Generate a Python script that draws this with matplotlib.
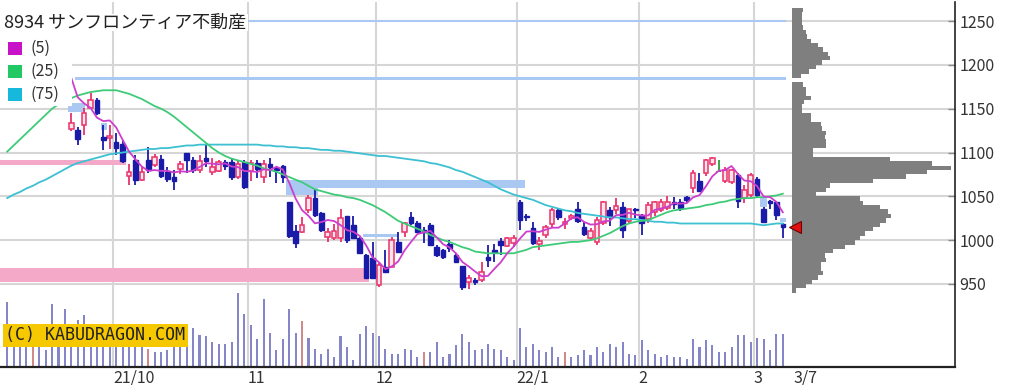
import matplotlib
matplotlib.use("Agg")
import matplotlib.pyplot as plt
from matplotlib.patches import Rectangle
import numpy as np
import pandas as pd

plt.rcParams['font.family'] = ['Noto Sans CJK JP', 'DejaVu Sans']

# ---------------- data ----------------
title = "8934 サンフロンティア不動産"

opens = [1190, 1245, 1236, 1252, 1238, 1220, 1232, 1225, 1180, 1185,
         1127, 1126, 1131, 1151, 1160, 1118, 1117, 1112, 1110, 1073,
         1092, 1069, 1092, 1086, 1093, 1078, 1072, 1081, 1099, 1092,
         1080, 1094, 1078, 1079, 1089, 1089, 1072, 1089, 1079, 1088,
         1072, 1087, 1082, 1085, 1044, 1011, 1009, 1034, 1048, 1031,
         1004, 1002, 1002, 1027, 1017, 1002, 983, 980, 949, 969,
         969, 998, 1009, 1026, 1020, 1012, 1017, 992, 989, 996,
         983, 971, 952, 955, 955, 981, 989, 999, 993, 997,
         1043, 1028, 1014, 996, 1006, 1019, 1034, 1018, 1025, 1036,
         1015, 1002, 998, 1020, 1034, 1034, 1038, 1022, 1036, 1029,
         1024, 1032, 1034, 1037, 1043, 1044, 1049, 1060, 1068, 1077,
         1087, 1078, 1067, 1066, 1074, 1048, 1052, 1070, 1036, 1045,
         1043, 1018]
highs = [1256, 1258, 1255, 1258, 1245, 1240, 1248, 1228, 1195, 1210,
         1145, 1129, 1151, 1168, 1162, 1131, 1131, 1122, 1114, 1087,
         1097, 1085, 1106, 1098, 1097, 1083, 1080, 1090, 1100, 1095,
         1097, 1108, 1094, 1092, 1092, 1094, 1090, 1092, 1091, 1092,
         1092, 1094, 1083, 1086, 1044, 1017, 1026, 1052, 1057, 1032,
         1014, 1018, 1035, 1028, 1027, 1004, 984, 998, 974, 989,
         1004, 1009, 1021, 1032, 1022, 1015, 1020, 994, 990, 1000,
         985, 971, 960, 957, 975, 994, 996, 1003, 1004, 1006,
         1046, 1030, 1021, 1004, 1017, 1037, 1037, 1025, 1030, 1043,
         1021, 1014, 1026, 1045, 1038, 1048, 1044, 1036, 1037, 1030,
         1043, 1045, 1047, 1050, 1049, 1047, 1050, 1080, 1077, 1093,
         1095, 1091, 1083, 1081, 1077, 1063, 1077, 1072, 1038, 1046,
         1044, 1020]
lows = [1180, 1228, 1220, 1230, 1212, 1205, 1218, 1175, 1170, 1178,
        1124, 1109, 1120, 1151, 1143, 1103, 1104, 1097, 1088, 1063,
        1063, 1068, 1077, 1084, 1071, 1066, 1057, 1076, 1077, 1077,
        1077, 1084, 1074, 1078, 1080, 1069, 1070, 1058, 1067, 1071,
        1065, 1072, 1065, 1065, 1003, 991, 1008, 1031, 1026, 1009,
        998, 1000, 998, 997, 1003, 985, 956, 957, 946, 963,
        969, 985, 1004, 1017, 1009, 997, 993, 981, 979, 986,
        974, 943, 944, 949, 952, 969, 975, 983, 992, 992,
        1012, 1022, 995, 989, 1003, 1015, 1023, 1013, 1023, 1020,
        1005, 1000, 994, 1017, 1016, 1030, 1003, 1020, 1025, 1006,
        1020, 1028, 1032, 1034, 1035, 1033, 1042, 1054, 1055, 1073,
        1085, 1078, 1065, 1064, 1037, 1042, 1049, 1048, 1020, 1035,
        1023, 1002]
closes = [1245, 1236, 1252, 1238, 1220, 1232, 1225, 1180, 1185, 1201,
          1134, 1115, 1145, 1160, 1145, 1114, 1119, 1105, 1090, 1078,
          1069, 1078, 1080, 1095, 1073, 1070, 1068, 1087, 1092, 1080,
          1090, 1090, 1084, 1089, 1085, 1072, 1087, 1061, 1088, 1081,
          1087, 1083, 1080, 1072, 1005, 997, 1017, 1048, 1029, 1012,
          1009, 1011, 1025, 1000, 1003, 985, 957, 957, 972, 964,
          1000, 986, 1020, 1020, 1009, 1009, 995, 983, 981, 991,
          975, 946, 957, 952, 964, 977, 986, 995, 1003, 1002,
          1023, 1026, 997, 999, 1015, 1034, 1026, 1021, 1028, 1022,
          1007, 1011, 1023, 1044, 1026, 1039, 1012, 1035, 1034, 1020,
          1040, 1043, 1044, 1043, 1041, 1037, 1046, 1077, 1056, 1091,
          1094, 1078, 1080, 1080, 1045, 1057, 1074, 1052, 1021, 1042,
          1029, 1015]

ma25 = [1101, 1108, 1115, 1122, 1129, 1136, 1143, 1150, 1155, 1159,
        1162, 1165, 1167, 1169, 1170, 1171, 1171, 1171, 1169, 1167,
        1164, 1161, 1157, 1153, 1150, 1146, 1141, 1135, 1129, 1123,
        1117, 1111, 1105, 1100, 1096, 1093, 1091, 1089, 1087, 1085,
        1082, 1080, 1078, 1075, 1072, 1069, 1066, 1062, 1058, 1056,
        1054, 1052, 1051, 1049, 1048, 1046, 1043, 1040, 1036, 1032,
        1027, 1022, 1019, 1016, 1013, 1010, 1006, 1003, 1000, 998,
        995, 992, 990, 987, 986, 985, 985, 985, 985, 985,
        987, 989, 992, 993, 994, 995, 996, 997, 998, 998,
        999, 1000, 1002, 1005, 1008, 1012, 1016, 1019, 1021, 1022,
        1023, 1026, 1029, 1032, 1034, 1035, 1036, 1037, 1038, 1040,
        1041, 1043, 1044, 1046, 1047, 1048, 1048, 1049, 1049, 1050,
        1051, 1053]
ma75 = [1048, 1052, 1055, 1059, 1062, 1066, 1069, 1073, 1077, 1081,
        1085, 1088, 1090, 1092, 1094, 1096, 1098, 1099, 1100, 1101,
        1102, 1103, 1104, 1104, 1105, 1105, 1106, 1107, 1108, 1108,
        1109, 1109, 1109, 1109, 1109, 1109, 1109, 1109, 1109, 1109,
        1108, 1108, 1107, 1107, 1106, 1106, 1105, 1105, 1104, 1103,
        1103, 1102, 1102, 1101, 1100, 1099, 1098, 1097, 1096, 1096,
        1095, 1094, 1093, 1092, 1091, 1090, 1088, 1087, 1085, 1083,
        1080, 1078, 1075, 1072, 1069, 1066, 1062, 1058, 1055, 1052,
        1050, 1048, 1046, 1043, 1040, 1038, 1036, 1034, 1033, 1031,
        1030, 1029, 1028, 1027, 1026, 1026, 1025, 1024, 1024, 1023,
        1022, 1021, 1021, 1020, 1020, 1019, 1019, 1019, 1019, 1019,
        1019, 1019, 1019, 1019, 1019, 1019, 1019, 1018, 1017, 1018,
        1019, 1019]

volumes = [65, 30, 30, 28, 28, 30, 17, 63, 30, 58,
           30, 47, 52, 21, 20, 42, 32, 30, 30, 30,
           30, 30, 18, 15, 15, 17, 23, 25, 30, 39,
           32, 31, 25, 23, 23, 25, 74, 53, 42, 28,
           68, 34, 17, 28, 58, 34, 46, 29, 18, 13,
           18, 10, 31, 20, 7, 33, 41, 34, 31, 18,
           13, 13, 18, 17, 10, 15, 15, 25, 10, 13,
           22, 33, 25, 17, 18, 23, 18, 17, 10, 7,
           39, 20, 23, 17, 15, 20, 10, 15, 10, 12,
           17, 12, 20, 15, 23, 20, 25, 13, 12, 27,
           17, 13, 10, 12, 10, 10, 8, 28, 20, 27,
           22, 15, 15, 20, 32, 32, 25, 29, 28, 17,
           33, 33]
red_volume_days = [4, 22, 46, 65, 87]

# price-volume profile (5-yen bins)
profile_prices = [p + 0.5 for p in range(1262, 940, -5)]
profile_volume = [11, 10, 10, 10, 11, 14, 15, 19, 26, 31,
                  36, 38, 30, 24, 17, 9, 0, 11, 14, 14,
                  19, 12, 10, 10, 19, 19, 29, 30, 34, 33,
                  34, 34, 21, 21, 98, 140, 159, 135, 114, 81,
                  38, 34, 24, 68, 71, 88, 96, 99, 94, 88,
                  81, 73, 68, 63, 53, 41, 33, 34, 29, 29,
                  31, 26, 20, 14, 4]

month_bounds = [16.5, 37.5, 57.5, 79.5, 98.5, 116.5]
month_labels = ["21/10", "11", "12", "22/1", "2", "3"]
last_label = "3/7"

# gap ("window") zones: (start idx, end idx, low price, high price)
up_gaps = [(-1.2, 18.5, 1085.5, 1091.5), (-1.2, 56.5, 952.5, 968.0)]
down_gaps = [(9.5, 12.2, 1146, 1157), (14.6, 15.6, 1126, 1134),
             (43.5, 48.5, 1052, 1069), (48.5, 80.8, 1060, 1069),
             (55.5, 61.0, 1004, 1006.5), (117.5, 118.5, 1038, 1048),
             (120.6, 121.5, 1021, 1025),
             (10.5, 121.5, 1248.5, 1251), (10.5, 121.5, 1182.5, 1186.5)]

# ---------------- figure ----------------
W, H = 1028, 385
fig = plt.figure(figsize=(W / 100, H / 100), dpi=100)
AX_L, AX_R, AX_T, AX_B = 0, 955, 2, 367
pos = [AX_L / W, (H - AX_B) / H, (AX_R - AX_L) / W, (AX_B - AX_T) / H]

vax = fig.add_axes(pos, zorder=0)
ax = fig.add_axes(pos, zorder=1, sharex=vax)
ax.patch.set_alpha(0)
ax.set_axisbelow(True)

n = len(closes)
x = np.arange(n)
ax.set_xlim(-1.123, 147.86)
ax.set_ylim(855.3, 1271.7)

# volume
vcolors = ['#d08a8a' if i in red_volume_days else '#8486c8' for i in range(n)]
vax.bar(x, volumes, width=0.32, color=vcolors, zorder=2)
vax.set_ylim(0, AX_B - AX_T)
vax.axis('off')

# grids
ax.set_yticks(range(950, 1251, 50))
ax.yaxis.grid(True, color='#d6d6d6', lw=1.5)
for mb in month_bounds:
    vax.axvline(mb, color='#d6d6d6', lw=1.5, zorder=1)

# gap zones
for s, e, lo, hi in up_gaps:
    ax.add_patch(Rectangle((s, lo), e - s, hi - lo, color='#f4a9c8', lw=0, zorder=1))
for s, e, lo, hi in down_gaps:
    ax.add_patch(Rectangle((s, lo), e - s, hi - lo, color='#a9c9f2', lw=0, zorder=1))

# candles
o = np.array(opens); c = np.array(closes); h = np.array(highs); l = np.array(lows)
up = c > o
dn = c < o
eq = c == o
ax.vlines(x[up], l[up], h[up], color='#e8336b', lw=1.3, zorder=3)
ax.vlines(x[dn], l[dn], h[dn], color='#1a1aa8', lw=1.3, zorder=3)
ax.vlines(x[eq], l[eq], h[eq], color='#2f9a3a', lw=1.3, zorder=3)
bw = 0.72
ax.bar(x[up], np.maximum(c[up] - o[up], 1), bottom=o[up], width=bw,
       facecolor='#ffe4ec', edgecolor='#e8336b', lw=1.1, zorder=3.2)
ax.bar(x[dn], np.maximum(o[dn] - c[dn], 1), bottom=c[dn], width=bw,
       facecolor='#1a1aa8', edgecolor='#1a1aa8', lw=1.0, zorder=3.2)
ax.bar(x[eq], 0.8, bottom=o[eq], width=bw, color='#2f9a3a', zorder=3.2)

# moving averages
ma5 = pd.Series(closes).rolling(5).mean()
ax.plot(x, ma75, color='#3cc0d2', lw=1.3, zorder=4)
ax.plot(x, ma25, color='#3ecb78', lw=1.3, zorder=4)
ax.plot(x, ma5, color='#cc3fcc', lw=1.3, zorder=4)

# price-volume profile
PX0 = 792
pax = fig.add_axes([PX0 / W, pos[1], (AX_R - PX0) / W, pos[3]], zorder=2, sharey=ax)
pax.patch.set_alpha(0)
pax.barh(profile_prices, profile_volume, height=5, color='#7f7f7f', lw=0)
pax.set_xlim(0, AX_R - PX0)
pax.axis('off')
# current price marker
pax.plot([2.5], [closes[-1]], marker='<', ms=8, color='#e01010',
         mec='#700000', mew=0.8, zorder=6, clip_on=False)

# axes styling
for sp in ['top', 'left']:
    ax.spines[sp].set_visible(False)
ax.spines['right'].set_color('#222')
ax.spines['right'].set_linewidth(1.2)
ax.spines['bottom'].set_color('#222')
ax.spines['bottom'].set_linewidth(1.6)
ax.yaxis.tick_right()
ax.tick_params(axis='y', direction='in', length=5, width=1, color='#888',
               labelsize=11.5, labelcolor='#333', pad=3)
ax.set_xticks(month_bounds + [n + 0.6])
ax.set_xticklabels(month_labels + [last_label])
ax.tick_params(axis='x', length=0, labelsize=11.5, labelcolor='#333', pad=2)
for lab in ax.get_xticklabels():
    lab.set_horizontalalignment('left')

# title / legend boxes (pixel helpers in axes fraction)
def fx(px):
    return (px - AX_L) / (AX_R - AX_L)
def fy(py):
    return (AX_B - py) / (AX_B - AX_T)

ax.add_patch(Rectangle((fx(0), fy(31)), fx(248), fy(14) - fy(31),
                       transform=ax.transAxes, color='white', zorder=9, lw=0))
ax.add_patch(Rectangle((fx(0), fy(106)), fx(72), fy(31) - fy(106),
                       transform=ax.transAxes, color='white', zorder=9, lw=0))
ax.text(fx(4), fy(22.5), title, transform=ax.transAxes, fontsize=13,
        color='#222', va='center', ha='left', zorder=10)
leg = [("(5)", '#c812c8', 48.5), ("(25)", '#22c864', 71.5), ("(75)", '#16b8dc', 94)]
for lab, col, yc in leg:
    ax.add_patch(Rectangle((fx(8), fy(yc + 6.5)), fx(22) - fx(8), fy(yc - 6.5) - fy(yc + 6.5),
                           transform=ax.transAxes, color=col, zorder=10, lw=0))
    ax.text(fx(31), fy(yc), lab, transform=ax.transAxes, fontsize=11.5,
            color='#333', va='center', ha='left', zorder=10)

ax.text(fx(5), fy(335.5), "(C) KABUDRAGON.COM", transform=ax.transAxes,
        fontsize=12, family='DejaVu Sans Mono', color='#222', va='center', ha='left',
        zorder=12, bbox=dict(boxstyle='square,pad=0.15', fc='#f6c800', ec='none'))

fig.savefig("out.png", dpi=100)
